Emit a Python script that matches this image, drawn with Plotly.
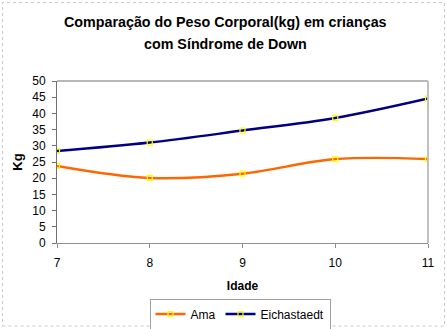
import plotly.graph_objects as go

idade = [7, 8, 9, 10, 11]
ama = [23.8, 20.1, 21.4, 25.9, 25.9]
eich = [28.4, 31.0, 34.7, 38.6, 44.6]
title_lines = ["Comparação do Peso Corporal(kg) em crianças", "com Síndrome de Down"]

W, H = 447, 329
L, R, T, B = 57, 19, 81, 86
pw, ph = W - L - R, H - T - B

def px(x):
    return (x - L) / pw

def py(y):
    return (H - B - y) / ph

font = "Liberation Sans, Arial, sans-serif"

fig = go.Figure()
fig.add_trace(go.Scatter(
    x=idade, y=ama, name="Ama", mode="lines+markers",
    line=dict(color="#FF6600", width=2.5, shape="spline", smoothing=1.0),
    marker=dict(symbol="square-open", size=5, color="#FFFF00", line=dict(width=1.2, color="#FFFF00")),
))
fig.add_trace(go.Scatter(
    x=idade, y=eich, name="Eichastaedt", mode="lines+markers",
    line=dict(color="#000080", width=2.5, shape="spline", smoothing=1.0),
    marker=dict(symbol="square-open", size=5, color="#FFFF00", line=dict(width=1.2, color="#FFFF00")),
))

shapes = [
    dict(type="rect", xref="paper", yref="paper",
         x0=px(2.5), x1=px(444.5), y0=py(326), y1=py(2.5),
         line=dict(color="#C8C8C8", width=1, dash="dot"), layer="below"),
    dict(type="line", xref="paper", yref="paper", x0=0, x1=1, y0=1, y1=1,
         line=dict(color="#A0A0A0", width=1.5)),
    dict(type="line", xref="paper", yref="paper", x0=1, x1=1, y0=0, y1=1,
         line=dict(color="#C0C0C0", width=2)),
]

annotations = [
    dict(text="<b>" + t + "</b>", xref="paper", yref="paper",
         x=px(225), y=py(yy), xanchor="center", yanchor="middle", showarrow=False,
         font=dict(family=font, size=14.3, color="black"))
    for t, yy in zip(title_lines, [22, 44])
]

fig.update_layout(
    width=W, height=H,
    margin=dict(l=L, r=R, t=T, b=B, autoexpand=False),
    paper_bgcolor="white", plot_bgcolor="white",
    font=dict(family=font, size=12, color="black"),
    xaxis=dict(
        range=[7, 11], tickvals=idade, ticktext=[str(v) for v in idade],
        showgrid=False, zeroline=False,
        showline=True, linecolor="#909090", linewidth=1,
        ticks="outside", ticklen=4, tickcolor="#909090",
        ticklabelstandoff=5,
        tickfont=dict(size=12, family=font),
        title=dict(text="<b>Idade</b>", font=dict(size=12, family=font), standoff=12),
    ),
    yaxis=dict(
        range=[0, 50], tickvals=list(range(0, 51, 5)),
        showgrid=False, zeroline=False,
        showline=True, linecolor="#707070", linewidth=1,
        ticks="outside", ticklen=4, tickcolor="#707070",
        ticklabelstandoff=4,
        tickfont=dict(size=12, family=font),
        title=dict(text="<b>Kg</b>", font=dict(size=13, family=font), standoff=6),
    ),
    legend=dict(
        orientation="h", x=px(240), xanchor="center", y=py(314), yanchor="middle",
        bordercolor="#A0A0A0", borderwidth=1, bgcolor="white",
        font=dict(size=12, family=font), itemwidth=30, tracegroupgap=0,
    ),
    shapes=shapes,
    annotations=annotations,
    showlegend=True,
)

fig.write_html("out.html")
